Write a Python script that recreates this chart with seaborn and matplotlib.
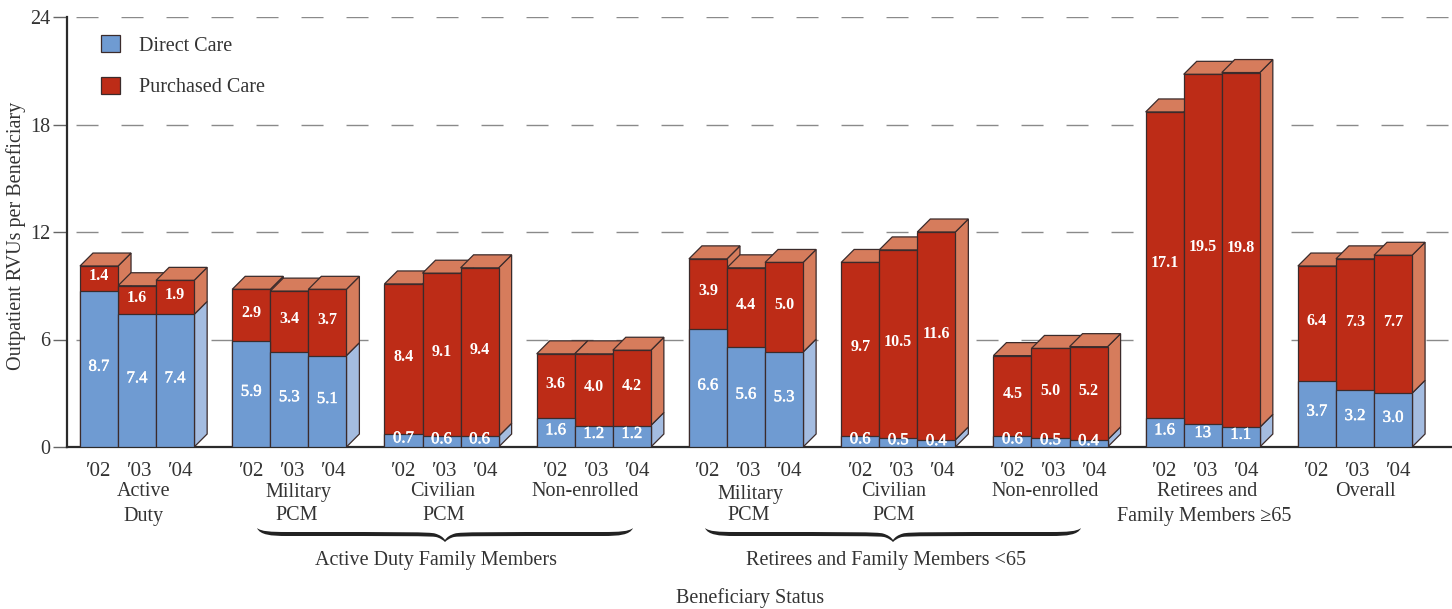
import matplotlib
matplotlib.use("Agg")
import matplotlib.pyplot as plt
import matplotlib.patheffects as pe
from matplotlib.path import Path
from matplotlib.patches import PathPatch, Patch
from matplotlib.transforms import Affine2D
import numpy as np
import pandas as pd
import seaborn as sns

W, H = 1452, 609
years = ["\u203202", "\u203203", "\u203204"]
direct_care = [8.7, 7.4, 7.4, 5.9, 5.3, 5.1, 0.7, 0.6, 0.6, 1.6, 1.2, 1.2,
               6.6, 5.6, 5.3, 0.6, 0.5, 0.4, 0.6, 0.5, 0.4, 1.6, 1.3, 1.1,
               3.7, 3.2, 3.0]
purchased_care = [1.4, 1.6, 1.9, 2.9, 3.4, 3.7, 8.4, 9.1, 9.4, 3.6, 4.0, 4.2,
                  3.9, 4.4, 5.0, 9.7, 10.5, 11.6, 4.5, 5.0, 5.2, 17.1, 19.5, 19.8,
                  6.4, 7.3, 7.7]
direct_labels = ["8.7", "7.4", "7.4", "5.9", "5.3", "5.1", "0.7", "0.6", "0.6",
                 "1.6", "1.2", "1.2", "6.6", "5.6", "5.3", "0.6", "0.5", "0.4",
                 "0.6", "0.5", "0.4", "1.6", "13", "1.1", "3.7", "3.2", "3.0"]
series_names = ["Direct Care", "Purchased Care"]

BLUE, BLUE_SIDE = "#6f9bd2", "#a4bce0"
RED, RED_SIDE = "#bd2c17", "#d67c5c"
EDGE = "#3b2b2b"
TEXT = "#333333"
FONT = ["Liberation Serif", "DejaVu Serif"]

sns.set_theme(style="white")
plt.rcParams["font.family"] = FONT
plt.rcParams["text.color"] = TEXT

positions = [4 * (k // 3) + k % 3 for k in range(len(direct_care))]
df = pd.DataFrame({"pos": positions, "direct": direct_care, "purchased": purchased_care})
df["total"] = df["direct"] + df["purchased"]

fig = plt.figure(figsize=(W / 100, H / 100), dpi=100)
ax = fig.add_axes([67 / W, 1 - 447 / H, (W - 67) / W, (447 - 17) / H])

sns.barplot(data=df, x="pos", y="total", native_scale=True, width=1, color=RED, saturation=1,
            edgecolor=EDGE, linewidth=0.9, zorder=10, ax=ax)
sns.barplot(data=df, x="pos", y="direct", native_scale=True, width=1, color=BLUE, saturation=1,
            edgecolor=EDGE, linewidth=0.9, zorder=11, ax=ax)

UX = 38.06
x0 = (67 - 99) / UX
ax.set_xlim(x0, x0 + (W - 67) / UX)
ax.set_ylim(0, 24)
dx, dy = 13 / UX, 13 * 24 / 430
thicken = [pe.withStroke(linewidth=0.35, foreground="white")]

for n, row in df.iterrows():
    r = row["pos"] + 0.5
    l = row["pos"] - 0.5
    b, t = row["direct"], row["total"]
    z = 3 + n * 0.01
    ax.fill([r, r + dx, r + dx, r], [0, dy, b + dy, b], facecolor=BLUE_SIDE, edgecolor=EDGE, lw=0.9, zorder=z)
    ax.fill([r, r + dx, r + dx, r], [b, b + dy, t + dy, t], facecolor=RED_SIDE, edgecolor=EDGE, lw=0.9, zorder=z)
    ax.fill([l, r, r + dx, l + dx], [t, t, t + dy, t + dy], facecolor=RED_SIDE, edgecolor=EDGE, lw=0.9, zorder=z)
    ax.text(row["pos"], b / 2 + 0.13, direct_labels[n], color="white", ha="center", va="center",
            fontsize=12, fontweight="normal", zorder=20, path_effects=thicken)
    ax.text(row["pos"], b + row["purchased"] / 2 + 0.13, f'{row["purchased"]:.1f}', color="white",
            ha="center", va="center", fontsize=11.5, fontweight="bold", zorder=20)

# axes and grid
ax.set_yticks([0, 6, 12, 18, 24])
ax.set_xticks([p + 0.08 * (k % 3) for k, p in enumerate(positions)])
ax.set_xticklabels([years[k % 3] for k in range(len(positions))])
ax.tick_params(axis="x", length=0, pad=11, labelsize=15, labelcolor=TEXT)
ax.tick_params(axis="y", left=True, length=10, width=1, color="#666666", pad=2, labelsize=14.5, labelcolor=TEXT)
ax.set_xlabel("")
ax.set_ylabel("")
ax.set_axisbelow(True)
ax.grid(False)
ax.yaxis.grid(True, color="#8a8a8a", linewidth=1.0, linestyle=(25.9, (15.84, 16.56)))
for side in ("top", "right"):
    ax.spines[side].set_visible(False)
for side in ("left", "bottom"):
    ax.spines[side].set_color("#2b2b2b")
    ax.spines[side].set_linewidth(1.6)

# legend
handles = [Patch(facecolor=BLUE, edgecolor=EDGE, lw=0.9), Patch(facecolor=RED, edgecolor=EDGE, lw=0.9)]
ax.legend(handles, series_names, loc="upper left", bbox_to_anchor=(28 / (W - 67), 0.972), frameon=False,
          fontsize=14.5, handlelength=0.95, handleheight=0.95, handletextpad=0.95, labelspacing=1.05,
          borderpad=0.3, borderaxespad=0, labelcolor=TEXT)

# text placed in reference pixels
def px_text(x, y, s, **kw):
    kw.setdefault("fontsize", 14.5)
    fig.text(x / W, 1 - y / H, s, ha="center", va="center", color=TEXT, **kw)

for x, y, s in [(144, 492, "Active"), (144, 516, "Duty"),
                (298, 492, "Military"), (297, 516, "PCM"),
                (443, 492, "Civilian"), (444, 516, "PCM"),
                (585, 492, "Non-enrolled"),
                (750, 495, "Military"), (749, 516, "PCM"),
                (894, 492, "Civilian"), (894, 516, "PCM"),
                (1045, 492, "Non-enrolled"),
                (1207, 492, "Retirees and"), (1204, 516, "Family Members \u226565"),
                (1365, 492, "Overall"),
                (436, 560, "Active Duty Family Members"),
                (886, 560, "Retirees and Family Members <65"),
                (750, 598, "Beneficiary Status")]:
    px_text(x, y, s)
px_text(16, 236, "Outpatient RVUs per Beneficiary", rotation=90)

# curly braces
to_fig = Affine2D().scale(1 / W, -1 / H).translate(0, 1) + fig.transFigure
def brace(x1, xm, x2):
    verts = [(x1, 528), (x1 + 4, 531.5), (x1 + 14, 532), (x1 + 30, 532),
             (xm - 40, 532), (xm - 15, 532), (xm - 10, 533.5),
             (xm - 5, 535), (xm - 2, 537), (xm, 540),
             (xm + 2, 537), (xm + 5, 535), (xm + 10, 533.5),
             (xm + 15, 532), (xm + 40, 532), (x2 - 30, 532),
             (x2 - 14, 532), (x2 - 4, 531.5), (x2, 528),
             (x2 - 3, 535), (x2 - 14, 536), (x2 - 30, 536),
             (xm + 40, 536), (xm + 15, 536), (xm + 9, 537),
             (xm + 5, 538), (xm + 2, 540), (xm, 542),
             (xm - 2, 540), (xm - 5, 538), (xm - 9, 537),
             (xm - 15, 536), (xm - 40, 536), (x1 + 30, 536),
             (x1 + 14, 536), (x1 + 3, 535), (x1, 528)]
    codes = [Path.MOVETO] + [Path.CURVE4] * (len(verts) - 1)
    fig.add_artist(PathPatch(Path(verts, codes), transform=to_fig, facecolor="#222222", edgecolor="none"))
brace(257, 445, 633)
brace(705, 893, 1081)

fig.savefig("out.png", dpi=100, facecolor="white")
